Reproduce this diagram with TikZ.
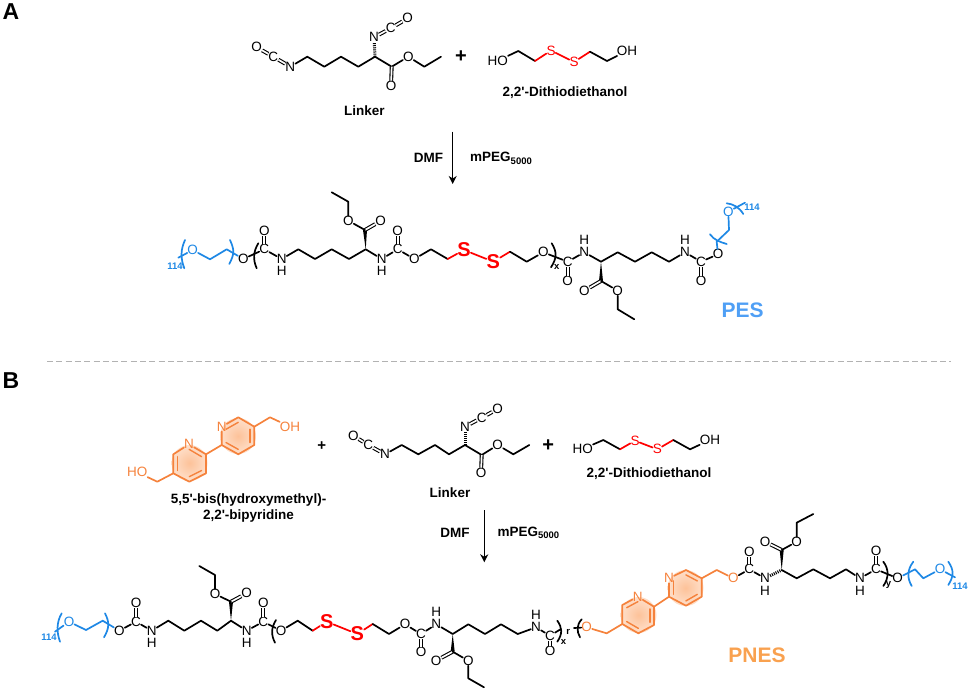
\documentclass[tikz,border=0pt]{standalone}
\usepackage{fontspec}
\setmainfont{Liberation Sans}[Ligatures=TeXOff]
\usepackage{xcolor}
\usetikzlibrary{positioning}
\usetikzlibrary{arrows.meta}
\usetikzlibrary{calc}
\definecolor{pegblue}{HTML}{1E88E5}
\definecolor{pesblue}{HTML}{4F9FF5}
\definecolor{bipyorange}{HTML}{F5823C}
\definecolor{pnesorange}{HTML}{F9A14F}
\definecolor{disulfide}{HTML}{FF0000}
\pgfdeclareradialshading{ringglow}{\pgfpoint{0bp}{0bp}}{rgb(0bp)=(0.99,0.76,0.60); rgb(32bp)=(1,0.91,0.85); rgb(50bp)=(1,1,1)}
\tikzset{
	atom/.style={inner sep=0pt,font=\fontsize{13.5}{14}\selectfont},
	bigsulfur/.style={atom,text=disulfide,font=\fontsize{20}{20}\selectfont\bfseries},
	label text/.style={inner sep=0pt,align=center,font=\fontsize{13.5}{16}\selectfont\bfseries},
	panel/.style={inner sep=0pt,font=\fontsize{23}{23}\selectfont\bfseries},
	polyname/.style={inner sep=0pt,font=\fontsize{21}{21}\selectfont\bfseries},
	repeats/.style={inner sep=0pt,font=\fontsize{9.5}{10}\selectfont\bfseries},
	bond/.style={line width=1.7pt,line cap=round,line join=round},
	dbl/.style={line width=1.1pt,double,double distance=1.7pt,line cap=butt},
	hash/.style={line width=3pt,dash pattern=on 1pt off 1.1pt},
	bracket/.style={line width=1.7pt,line cap=round},
	ringshade/.style={shading=ringglow},
	reaction/.style={line width=1.4pt,-{Stealth[length=8pt,width=8pt,inset=2.5pt]}}
}
\newcommand{\wedgebond}[2]{\fill (#1) -- ($(#2)!2pt!90:(#1)$) -- ($(#2)!2pt!-90:(#1)$) -- cycle;}
\newcommand{\ringdbl}[3]{\draw[bond,line width=1.4pt,bipyorange] ($(#1)!.27!(#3)$) -- ($(#2)!.27!(#3)$);}
\newcommand{\mpeg}{mPEG\raisebox{-2.5pt}{\fontsize{9.5}{10}\selectfont 5000}}
\begin{document}
\begin{tikzpicture}[x=1pt,y=-1pt]
	\useasboundingbox (0,0) rectangle (969,690);
	\node[panel] at (11,12) (pa) {A};
	\node[panel] at (11,381) (pb) {B};
	\coordinate (d1) at (47,361);
	\coordinate (d2) at (951,361);
	\draw[black!30,line width=0.9pt,dash pattern=on 6pt off 3.3pt] (d1) -- (d2);

	% A: linker
	\node[atom] at (256.7,47.3) (ao1) {O};
	\node[atom] at (273.3,56.7) (ac1) {C};
	\node[atom] at (290.3,66.7) (an1) {N};
	\coordinate (a1) at (307.3,56.7);
	\coordinate (a2) at (324.3,66.7);
	\coordinate (a3) at (341,56.7);
	\coordinate (a4) at (358.3,66.7);
	\coordinate (a5) at (375,56.7);
	\coordinate (a6) at (391.7,66.7);
	\node[atom] at (391,85.7) (ao2) {O};
	\node[atom] at (408.3,56.7) (ao3) {O};
	\coordinate (a7) at (424.3,66.7);
	\coordinate (a8) at (441,56.7);
	\node[atom] at (374,37.3) (an2) {N};
	\node[atom] at (390.7,28.3) (ac2) {C};
	\node[atom] at (407.7,18.3) (ao4) {O};
	\draw[bond,dbl] (ao1) -- (ac1);
	\draw[bond,dbl] (ac1) -- (an1);
	\draw[bond] (an1) -- (a1) -- (a2) -- (a3) -- (a4) -- (a5) -- (a6) -- (ao3) -- (a7) -- (a8);
	\draw[bond,dbl] (a6) -- (ao2);
	\draw[hash] (a5) -- (an2);
	\draw[bond,dbl] (an2) -- (ac2);
	\draw[bond,dbl] (ac2) -- (ao4);
	\node[label text] at (364.3,110.7) (linkera) {Linker};
	\node[label text,font=\fontsize{20}{20}\selectfont\bfseries] at (461,57) (plusa) {+};

	% A: dithiol
	\node[atom] at (497.7,60.7) (aho) {HO};
	\coordinate (s1) at (518.3,51);
	\coordinate (s2) at (535,61);
	\node[atom,text=disulfide] at (551,50.5) (as1) {S};
	\node[atom,text=disulfide] at (574,62) (as2) {S};
	\coordinate (s3) at (590,51.7);
	\coordinate (s4) at (607,61);
	\node[atom] at (627,51) (aoh) {OH};
	\draw[bond] (aho) -- (s1) -- (s2);
	\draw[bond,disulfide] (s2) -- (as1) -- (as2) -- (s3);
	\draw[bond] (s3) -- (s4) -- (aoh);
	\node[label text] at (565,93) (dithiola) {2,2'-Dithiodiethanol};

	% A: reaction arrow
	\coordinate (ar1) at (452.7,131.7);
	\coordinate (ar2) at (452.7,184);
	\draw[reaction] (ar1) -- (ar2);
	\node[label text,left=9.4pt of ar1,yshift=-26.5pt] (dmfa) {DMF};
	\node[label text,right=17.3pt of ar1,yshift=-26.5pt] (mpega) {\mpeg};

	% A: PES, left half
	\coordinate (e0) at (178.3,257.7);
	\node[atom,text=pegblue] at (192.7,250) (ep1) {O};
	\coordinate (e1) at (210,259.3);
	\coordinate (e2) at (226.7,249.3);
	\node[atom] at (243.3,259) (eo1) {O};
	\node[atom] at (264.3,249.3) (ec1) {C};
	\node[atom] at (264.3,230.7) (eo2) {O};
	\node[atom] at (281.7,259) (en1) {N};
	\node[atom,below=2.5pt of en1] (eh1) {H};
	\coordinate (e3) at (298.3,249.3);
	\coordinate (e4) at (315,259);
	\coordinate (e5) at (331.7,249.3);
	\coordinate (e6) at (349,259);
	\coordinate (e7) at (365.7,249.3);
	\coordinate (e8) at (365,230);
	\node[atom] at (380.7,221) (eo3) {O};
	\node[atom] at (348.3,220.7) (eo4) {O};
	\coordinate (e9) at (348.3,201.7);
	\coordinate (e10) at (331.7,192.3);
	\node[atom] at (381.7,259) (en2) {N};
	\node[atom,below=2.5pt of en2] (eh2) {H};
	\node[atom] at (397.7,249.3) (ec2) {C};
	\node[atom] at (397.7,230.7) (eo5) {O};
	\node[atom] at (414.3,259) (eo6) {O};
	\coordinate (e11) at (431,249.3);
	\coordinate (e12) at (447.7,259);
	\node[bigsulfur] at (464,250) (es1) {S};
	\node[bigsulfur] at (493.3,261.7) (es2) {S};
	\draw[bond,pegblue] (e0) -- (ep1) -- (e1) -- (e2) -- (eo1);
	\draw[bond] (eo1) -- (ec1) -- (en1) -- (e3) -- (e4) -- (e5) -- (e6) -- (e7) -- (en2) -- (ec2) -- (eo6) -- (e11) -- (e12);
	\draw[bond,dbl] (ec1) -- (eo2);
	\draw[bond,dbl] (ec2) -- (eo5);
	\wedgebond{e7}{e8}
	\draw[bond,dbl] (e8) -- (eo3);
	\draw[bond] (e8) -- (eo4) -- (e9) -- (e10);
	\draw[bond,disulfide] (e12) -- (es1) -- (es2);
	\draw[bracket,pegblue] (185,240) .. controls (180.5,250) and (180.5,258) .. (184.3,268.3);
	\draw[bracket,pegblue] (230,240) .. controls (234.5,250) and (234.5,254) .. (229.3,264);
	\draw[bracket] (258.3,243.3) .. controls (253,252) and (253,260) .. (256.7,268.3);
	\node[repeats,text=pegblue] at (175,266.7) (en3) {114};

	% A: PES, right half
	\coordinate (f1) at (510,251.7);
	\coordinate (f2) at (526.7,261.7);
	\node[atom] at (543.3,252.3) (fo1) {O};
	\node[atom] at (567.7,261.7) (fc1) {C};
	\node[atom] at (567.7,281) (fo2) {O};
	\node[atom] at (584.3,252.3) (fn1) {N};
	\node[atom,above=2.5pt of fn1] (fh1) {H};
	\coordinate (f3) at (601,261.7);
	\coordinate (f4) at (617.7,252.3);
	\coordinate (f5) at (635,261.7);
	\coordinate (f6) at (651.7,252.3);
	\coordinate (f7) at (669,261.7);
	\node[atom] at (685,252.3) (fn2) {N};
	\node[atom,above=2.5pt of fn2] (fh2) {H};
	\node[atom] at (701,261.7) (fc2) {C};
	\node[atom] at (701,281) (fo3) {O};
	\node[atom] at (718,254.3) (fo4) {O};
	\coordinate (f8) at (601,281);
	\node[atom] at (584.3,290.7) (fo5) {O};
	\node[atom] at (617.7,290.7) (fo6) {O};
	\coordinate (f9) at (617.7,309.3);
	\coordinate (f10) at (634.3,319.3);
	\coordinate (f11) at (716.7,241.7);
	\coordinate (f12) at (729,230);
	\node[atom,text=pegblue] at (728.3,211.7) (fp1) {O};
	\coordinate (f14) at (745,202.7);
	\draw[bond,disulfide] (es2) -- (f1);
	\draw[bond] (f1) -- (f2) -- (fo1) -- (fc1) -- (fn1) -- (f3) -- (f4) -- (f5) -- (f6) -- (f7) -- (fn2) -- (fc2) -- (fo4);
	\draw[bond,dbl] (fc1) -- (fo2);
	\draw[bond,dbl] (fc2) -- (fo3);
	\wedgebond{f3}{f8}
	\draw[bond,dbl] (f8) -- (fo5);
	\draw[bond] (f8) -- (fo6) -- (f9) -- (f10);
	\draw[bond,pegblue] (fo4) -- (f11) -- (f12) -- (fp1) -- (f14);
	\draw[bracket] (551.7,243.3) .. controls (557,252) and (557,258) .. (551,267.3);
	\draw[bracket,pegblue] (710,234.3) .. controls (714,240) and (720,242) .. (726.7,244);
	\draw[bracket,pegblue] (726.7,203.3) .. controls (733,204) and (739,207) .. (743.3,214);
	\node[repeats] at (556.7,267.3) (fx) {x};
	\node[repeats,text=pegblue] at (752,207.5) (fn3) {114};
	\node[polyname,text=pesblue] at (742.7,310.7) (pes) {PES};

	% B: bipyridine
	\coordinate (rl) at (189.5,463);
	\coordinate (rr) at (238,436);
	\shade[ringshade] (rl) circle (18pt);
	\shade[ringshade] (rr) circle (18pt);
	\node[atom,text=bipyorange] at (189,444.3) (bn1) {N};
	\coordinate (b2) at (206,454.3);
	\coordinate (b3) at (206,473.3);
	\coordinate (b4) at (189.3,481.7);
	\coordinate (b5) at (173.3,473.3);
	\coordinate (b6) at (173.3,454.3);
	\coordinate (b7) at (157.3,481.7);
	\node[atom,text=bipyorange] at (137.3,472.3) (bho) {HO};
	\coordinate (b8) at (221.7,445);
	\node[atom,text=bipyorange] at (221.7,426.7) (bn2) {N};
	\coordinate (b9) at (238.3,417.3);
	\coordinate (b10) at (254.3,426.7);
	\coordinate (b11) at (254.3,445);
	\coordinate (b12) at (238.3,454.3);
	\coordinate (b13) at (270,417.3);
	\node[atom,text=bipyorange] at (290,426.7) (boh) {OH};
	\draw[bond,bipyorange] (bn1) -- (b2) -- (b3) -- (b4) -- (b5) -- (b6) -- (bn1);
	\draw[bond,bipyorange] (b8) -- (bn2) -- (b9) -- (b10) -- (b11) -- (b12) -- (b8);
	\draw[bond,bipyorange] (b2) -- (b8);
	\draw[bond,bipyorange] (b5) -- (b7) -- (bho);
	\draw[bond,bipyorange] (b10) -- (b13) -- (boh);
	\ringdbl{bn1}{b2}{rl}
	\ringdbl{b3}{b4}{rl}
	\ringdbl{b5}{b6}{rl}
	\ringdbl{bn2}{b9}{rr}
	\ringdbl{b10}{b11}{rr}
	\ringdbl{b12}{b8}{rr}
	\node[label text] at (248.5,508.5) (bipyname) {5,5'-bis(hydroxymethyl)-\\2,2'-bipyridine};
	\node[label text,font=\fontsize{15}{15}\selectfont\bfseries] at (321.7,446) (plusb) {+};

	% B: linker
	\node[atom] at (353.3,435.7) (co1) {O};
	\node[atom] at (368.3,445) (cc1) {C};
	\node[atom] at (385,454.3) (cn1) {N};
	\coordinate (c1) at (401.7,445);
	\coordinate (c2) at (418.3,454.3);
	\coordinate (c3) at (435,445);
	\coordinate (c4) at (449,454.3);
	\coordinate (c5) at (465,445);
	\coordinate (c6) at (481.7,455);
	\node[atom] at (481,472.7) (co2) {O};
	\node[atom] at (497.7,445) (co3) {O};
	\coordinate (c7) at (513.3,454.3);
	\coordinate (c8) at (529.3,445);
	\node[atom] at (465,426.7) (cn2) {N};
	\node[atom] at (481.7,417.7) (cc2) {C};
	\node[atom] at (497.7,409) (co4) {O};
	\draw[bond,dbl] (co1) -- (cc1);
	\draw[bond,dbl] (cc1) -- (cn1);
	\draw[bond] (cn1) -- (c1) -- (c2) -- (c3) -- (c4) -- (c5) -- (c6) -- (co3) -- (c7) -- (c8);
	\draw[bond,dbl] (c6) -- (co2);
	\draw[hash] (c5) -- (cn2);
	\draw[bond,dbl] (cn2) -- (cc2);
	\draw[bond,dbl] (cc2) -- (co4);
	\node[label text] at (450,492.3) (linkerb) {Linker};
	\node[label text,font=\fontsize{20}{20}\selectfont\bfseries] at (548.3,446) (plusc) {+};

	% B: dithiol
	\node[atom] at (582.7,449) (cho) {HO};
	\coordinate (t1) at (603.3,440);
	\coordinate (t2) at (620,449.3);
	\node[atom,text=disulfide] at (635,440.7) (cs1) {S};
	\node[atom,text=disulfide] at (657.3,449.3) (cs2) {S};
	\coordinate (t3) at (673.3,440);
	\coordinate (t4) at (690,449.3);
	\node[atom] at (710,440) (coh) {OH};
	\draw[bond] (cho) -- (t1) -- (t2);
	\draw[bond,disulfide] (t2) -- (cs1) -- (cs2) -- (t3);
	\draw[bond] (t3) -- (t4) -- (coh);
	\node[label text] at (649,474) (dithiolb) {2,2'-Dithiodiethanol};

	% B: reaction arrow
	\coordinate (ar3) at (484.3,510);
	\coordinate (ar4) at (484.3,562.3);
	\draw[reaction] (ar3) -- (ar4);
	\node[label text,left=14.5pt of ar3,yshift=-23pt] (dmfb) {DMF};
	\node[label text,right=13pt of ar3,yshift=-23pt] (mpegb) {\mpeg};

	% B: PNES, left part
	\coordinate (g0) at (55,631.7);
	\node[atom,text=pegblue] at (69,621.7) (gp1) {O};
	\coordinate (g1) at (86,630);
	\coordinate (g2) at (102.7,620.7);
	\node[atom] at (119.3,630.7) (go1) {O};
	\node[atom] at (136,621.7) (gc1) {C};
	\node[atom] at (136,603.3) (go2) {O};
	\node[atom] at (151.7,630.7) (gn1) {N};
	\node[atom,below=2.5pt of gn1] (gh1) {H};
	\coordinate (g3) at (168.3,620.7);
	\coordinate (g4) at (184.3,630.7);
	\coordinate (g5) at (201,620.7);
	\coordinate (g6) at (217.3,630.7);
	\coordinate (g7) at (231,620.7);
	\coordinate (g8) at (231,601.7);
	\node[atom] at (246.7,593.3) (go3) {O};
	\node[atom] at (215,594) (go4) {O};
	\coordinate (g9) at (215,575);
	\coordinate (g10) at (199.3,566);
	\node[atom] at (246.7,630.7) (gn2) {N};
	\node[atom,below=2.5pt of gn2] (gh2) {H};
	\node[atom] at (263.3,621.7) (gc2) {C};
	\node[atom] at (263.3,603.3) (go5) {O};
	\node[atom] at (281,630.7) (go6) {O};
	\coordinate (g11) at (297.7,620.7);
	\coordinate (g12) at (312.7,630.7);
	\node[bigsulfur] at (326.7,621.7) (gs1) {S};
	\node[bigsulfur] at (357.3,634) (gs2) {S};
	\draw[bond,pegblue] (g0) -- (gp1) -- (g1) -- (g2) -- (go1);
	\draw[bond] (go1) -- (gc1) -- (gn1) -- (g3) -- (g4) -- (g5) -- (g6) -- (g7) -- (gn2) -- (gc2) -- (go6) -- (g11) -- (g12);
	\draw[bond,dbl] (gc1) -- (go2);
	\draw[bond,dbl] (gc2) -- (go5);
	\wedgebond{g7}{g8}
	\draw[bond,dbl] (g8) -- (go3);
	\draw[bond] (g8) -- (go4) -- (g9) -- (g10);
	\draw[bond,disulfide] (g12) -- (gs1) -- (gs2);
	\draw[bracket,pegblue] (61.7,613.3) .. controls (56.5,622) and (56.5,632) .. (60,641.7);
	\draw[bracket,pegblue] (105,613.3) .. controls (109.5,622) and (109.5,628) .. (104,637.3);
	\draw[bracket] (276,620) .. controls (271,628) and (271,635) .. (275,642.7);
	\node[repeats,text=pegblue] at (49,637.3) (gn3) {114};

	% B: PNES, middle part
	\coordinate (h1) at (372.7,624);
	\coordinate (h2) at (389,634);
	\node[atom] at (405,624.3) (ho1) {O};
	\node[atom] at (421,634) (hc1) {C};
	\node[atom] at (421,651.7) (ho2) {O};
	\node[atom] at (436.3,624.3) (hn1) {N};
	\node[atom,above=2.5pt of hn1] (hh1) {H};
	\coordinate (h3) at (452.7,634);
	\coordinate (h4) at (468.3,624.3);
	\coordinate (h5) at (485,634);
	\coordinate (h6) at (501,624.3);
	\coordinate (h7) at (517.7,634);
	\node[atom] at (536,627.3) (hn2) {N};
	\node[atom,above=2.5pt of hn2] (hh2) {H};
	\node[atom] at (550,635.7) (hc2) {C};
	\node[atom] at (550,650.7) (ho3) {O};
	\coordinate (h8) at (452.7,651.7);
	\node[atom] at (436,660.7) (ho4) {O};
	\node[atom] at (468.3,660.7) (ho5) {O};
	\coordinate (h9) at (468.3,678.3);
	\coordinate (h10) at (484,687.3);
	\coordinate (h11) at (561,629);
	\coordinate (h12) at (574,628);
	\draw[bond,disulfide] (gs2) -- (h1);
	\draw[bond] (h1) -- (h2) -- (ho1) -- (hc1) -- (hn1) -- (h3) -- (h4) -- (h5) -- (h6) -- (h7) -- (hn2) -- (hc2) -- (h11);
	\draw[bond,dbl] (hc1) -- (ho2);
	\draw[bond,dbl] (hc2) -- (ho3);
	\wedgebond{h3}{h8}
	\draw[bond,dbl] (h8) -- (ho4);
	\draw[bond] (h8) -- (ho5) -- (h9) -- (h10);
	\draw[bracket] (557.3,620.7) .. controls (562.5,628) and (562.5,634) .. (557.3,641.7);
	\draw[bracket] (581.7,619.3) .. controls (576.5,625) and (576.5,631) .. (580,637.3);
	\node[repeats] at (563.5,642) (hx) {x};
	\node[repeats] at (568.3,631.7) (hr) {r};

	% B: PNES, bipyridine unit
	\coordinate (ql) at (638.5,615);
	\coordinate (qr) at (685.5,588);
	\shade[ringshade] (ql) circle (18pt);
	\shade[ringshade] (qr) circle (18pt);
	\node[atom,text=bipyorange] at (586.7,627.3) (qo1) {O};
	\coordinate (q1) at (606.7,633.3);
	\coordinate (q2) at (622.3,624);
	\coordinate (q3) at (622.3,605);
	\node[atom,text=bipyorange] at (637.7,596.7) (qn1) {N};
	\coordinate (q4) at (654,606.7);
	\coordinate (q5) at (654,625);
	\coordinate (q6) at (638.3,633.3);
	\coordinate (q7) at (669,596.7);
	\node[atom,text=bipyorange] at (669,578.3) (qn2) {N};
	\coordinate (q8) at (686,570);
	\coordinate (q9) at (701.7,578.3);
	\coordinate (q10) at (701.7,596.7);
	\coordinate (q11) at (686,605.7);
	\coordinate (q12) at (716.7,570);
	\node[atom,text=bipyorange] at (733.3,578.3) (qo2) {O};
	\draw[bond] (h12) -- (qo1);
	\draw[bond,bipyorange] (qo1) -- (q1) -- (q2) -- (q3) -- (qn1) -- (q4) -- (q5) -- (q6) -- (q2);
	\draw[bond,bipyorange] (q4) -- (q7) -- (qn2) -- (q8) -- (q9) -- (q10) -- (q11) -- (q7);
	\draw[bond,bipyorange] (q9) -- (q12) -- (qo2);
	\ringdbl{q3}{qn1}{ql}
	\ringdbl{q4}{q5}{ql}
	\ringdbl{q6}{q2}{ql}
	\ringdbl{q7}{qn2}{qr}
	\ringdbl{q8}{q9}{qr}
	\ringdbl{q10}{q11}{qr}
	\node[polyname,text=pnesorange] at (757,655) (pnes) {PNES};

	% B: PNES, right part
	\node[atom] at (749.3,569.3) (kc1) {C};
	\node[atom] at (749.3,551.7) (ko1) {O};
	\node[atom] at (765,578.3) (kn1) {N};
	\node[atom,below=2.5pt of kn1] (kh1) {H};
	\coordinate (k1) at (781.7,570);
	\coordinate (k2) at (781.7,550);
	\node[atom] at (765,541.7) (ko2) {O};
	\node[atom] at (796.7,541.7) (ko3) {O};
	\coordinate (k3) at (796.7,522.7);
	\coordinate (k4) at (813.3,514);
	\coordinate (k5) at (796.7,578.3);
	\coordinate (k6) at (813.3,569.3);
	\coordinate (k7) at (830,578.3);
	\coordinate (k8) at (846,569.3);
	\node[atom] at (860,578.3) (kn2) {N};
	\node[atom,below=2.5pt of kn2] (kh2) {H};
	\node[atom] at (876,569.3) (kc2) {C};
	\node[atom] at (876,551) (ko4) {O};
	\node[atom] at (897.7,578.3) (ko5) {O};
	\coordinate (k9) at (915,569.3);
	\coordinate (k10) at (923.3,578.3);
	\node[atom,text=pegblue] at (940,569.3) (kp1) {O};
	\coordinate (k11) at (955,577.3);
	\draw[bond] (qo2) -- (kc1) -- (kn1);
	\draw[bond,dbl] (kc1) -- (ko1);
	\draw[hash] (kn1) -- (k1);
	\wedgebond{k1}{k2}
	\draw[bond,dbl] (k2) -- (ko2);
	\draw[bond] (k2) -- (ko3) -- (k3) -- (k4);
	\draw[bond] (k1) -- (k5) -- (k6) -- (k7) -- (k8) -- (kn2) -- (kc2) -- (ko5);
	\draw[bond,dbl] (kc2) -- (ko4);
	\draw[bond,pegblue] (ko5) -- (k9) -- (k10) -- (kp1) -- (k11);
	\draw[bracket] (883.3,561.7) .. controls (889,569) and (889,578) .. (883.3,586);
	\draw[bracket,pegblue] (913.3,561.7) .. controls (907,570) and (907,578) .. (911.7,586);
	\draw[bracket,pegblue] (948.3,561.7) .. controls (954,570) and (954,576) .. (948.3,585);
	\node[repeats] at (888.5,584.5) (ky) {y};
	\node[repeats,text=pegblue] at (960,586) (kn3) {114};
\end{tikzpicture}
\end{document}
